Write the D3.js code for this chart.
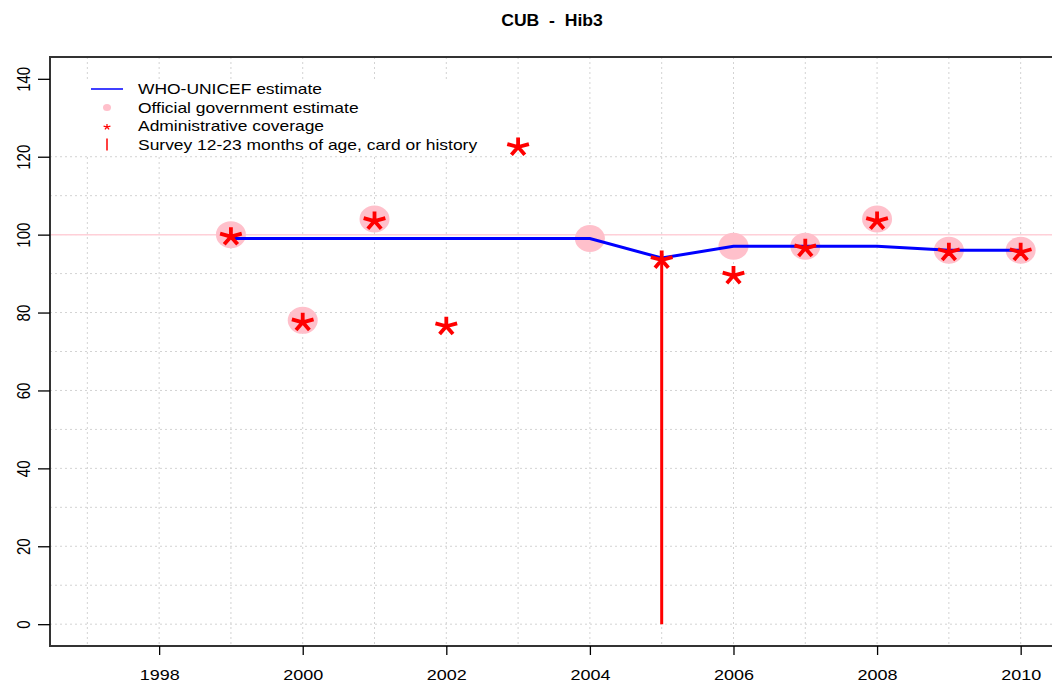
<!DOCTYPE html>
<html>
<head>
<meta charset="utf-8">
<script src="https://cdn.jsdelivr.net/npm/d3@7"></script>
<style>
  html, body { margin: 0; padding: 0; background: #fff; }
  svg { display: block; }
  text { font-family: "Liberation Sans", Arial, Helvetica, sans-serif; }
</style>
</head>
<body>
<svg id="chart" width="1052" height="684"></svg>
<script>
// ---- Data ----
const title = "CUB  -  Hib3";
const years = [1999, 2000, 2001, 2002, 2003, 2004, 2005, 2006, 2007, 2008, 2009, 2010];
const wuenicEstimate = [99, 99, 99, 99, 99, 99, 94, 97, 97, 97, 96, 96];
const officialEstimate = [100, 78, 104, null, null, 99, null, 97, 97, 104, 96, 96];
const adminCoverage = [100, 78, 104, 77, 123, null, 94, 90, 97, 104, 96, 96];
const surveyYears = [2005];
const surveyValues = [95];
const xTickValues = [1998, 2000, 2002, 2004, 2006, 2008, 2010];
const xGridValues = [1997, 1998, 1999, 2000, 2001, 2002, 2003, 2004, 2005, 2006, 2007, 2008, 2009, 2010];
const yTickValues = [0, 20, 40, 60, 80, 100, 120, 140];
const yGridValues = [0, 10, 20, 30, 40, 50, 60, 70, 80, 90, 100, 110, 120];
const referenceLine = 100;
const legendLabels = [
  "WHO-UNICEF estimate",
  "Official government estimate",
  "Administrative coverage",
  "Survey 12-23 months of age, card or history"
];

// ---- Layout ----
const plot = { left: 50, right: 1058, top: 57, bottom: 646 };
const SX = 1.2; // horizontal text stretch seen in the reference

const svg = d3.select("#chart");
const x = d3.scaleLinear().domain([1996.48, 2010.52]).range([plot.left, plot.right]);
const y = d3.scaleLinear().domain([-5.6, 145.6]).range([plot.bottom, plot.top]);

// grid
const grid = svg.append("g");
grid.selectAll("line.v").data(xGridValues).join("line")
  .attr("x1", d => x(d)).attr("x2", d => x(d))
  .attr("y1", plot.top).attr("y2", plot.bottom)
  .attr("stroke", "#d3d3d3").attr("stroke-width", 1).attr("stroke-dasharray", "2,3");
grid.selectAll("line.h").data(yGridValues).join("line")
  .attr("x1", plot.left).attr("x2", plot.right)
  .attr("y1", d => y(d)).attr("y2", d => y(d))
  .attr("stroke", "#d3d3d3").attr("stroke-width", 1).attr("stroke-dasharray", "2,3");

// reference line at 100
svg.append("line")
  .attr("x1", plot.left).attr("x2", plot.right)
  .attr("y1", y(referenceLine)).attr("y2", y(referenceLine))
  .attr("stroke", "#ffd0d8").attr("stroke-width", 1.5);

// legend background (white, no border)
svg.append("rect").attr("x", 78).attr("y", 80).attr("width", 412).attr("height", 74).attr("fill", "#fff");

// official estimate circles
const official = years.map((yr, i) => ({ yr, v: officialEstimate[i] })).filter(d => d.v !== null);
svg.append("g").selectAll("ellipse").data(official).join("ellipse")
  .attr("cx", d => x(d.yr)).attr("cy", d => y(d.v))
  .attr("rx", 15).attr("ry", 13.5).attr("fill", "#ffc0cb");

// WUENIC line
const wu = years.map((yr, i) => ({ yr, v: wuenicEstimate[i] }));
svg.append("path").datum(wu)
  .attr("d", d3.line().x(d => x(d.yr)).y(d => y(d.v)))
  .attr("fill", "none").attr("stroke", "#0000ff").attr("stroke-width", 3);

// asterisk path builder (5 arms, like a font asterisk)
function asteriskPath(L) {
  const angles = [0, 72, -72, 144, -144]; // degrees from "up"
  return angles.map(a => {
    const r = a * Math.PI / 180;
    return `M0,0L${(Math.sin(r) * L * SX).toFixed(2)},${(-Math.cos(r) * L).toFixed(2)}`;
  }).join("");
}

// admin coverage asterisks
const admin = years.map((yr, i) => ({ yr, v: adminCoverage[i] })).filter(d => d.v !== null);
svg.append("g").selectAll("path").data(admin).join("path")
  .attr("transform", d => `translate(${x(d.yr)},${y(d.v) + 2})`)
  .attr("d", asteriskPath(9.5))
  .attr("stroke", "#ff0000").attr("stroke-width", 3.8).attr("fill", "none");

// survey vertical lines
const survey = surveyYears.map((yr, i) => ({ yr, v: surveyValues[i] }));
svg.append("g").selectAll("line").data(survey).join("line")
  .attr("x1", d => x(d.yr)).attr("x2", d => x(d.yr))
  .attr("y1", y(0)).attr("y2", d => y(d.v))
  .attr("stroke", "#ff0000").attr("stroke-width", 3);

// box
svg.append("rect")
  .attr("x", plot.left).attr("y", plot.top)
  .attr("width", plot.right - plot.left).attr("height", plot.bottom - plot.top)
  .attr("fill", "none").attr("stroke", "#333").attr("stroke-width", 2);

// axes
const xAxis = svg.append("g").attr("transform", `translate(0,${plot.bottom})`)
  .call(d3.axisBottom(x).tickValues(xTickValues).tickFormat(d3.format("d")).tickSize(9).tickSizeOuter(0));
xAxis.select(".domain").remove();
xAxis.selectAll(".tick line").attr("stroke", "#000").attr("stroke-width", 1.3);
xAxis.selectAll(".tick text").attr("y", 0).attr("dy", null)
  .attr("transform", `translate(0,34) scale(${SX},1)`)
  .attr("font-size", 15).attr("fill", "#000");

const yAxis = svg.append("g").attr("transform", `translate(${plot.left},0)`)
  .call(d3.axisLeft(y).tickValues(yTickValues).tickFormat(d3.format("d")).tickSize(12).tickSizeOuter(0));
yAxis.select(".domain").remove();
yAxis.selectAll(".tick line").attr("stroke", "#000").attr("stroke-width", 1.3);
yAxis.selectAll(".tick text").attr("x", 0).attr("dy", null)
  .attr("text-anchor", "middle")
  .attr("transform", `translate(-20,0) scale(${SX},1) rotate(-90)`)
  .attr("font-size", 15).attr("fill", "#000");

// title
svg.append("text")
  .attr("transform", `translate(${(plot.left + plot.right) / 2 - 2},26) scale(1.1,1)`)
  .attr("text-anchor", "middle").attr("font-size", 16).attr("font-weight", "bold")
  .attr("xml:space", "preserve").style("white-space", "pre")
  .attr("fill", "#000").text(title);

// legend
const lg = svg.append("g");
const rowY = [89, 107.5, 126, 144.5];
lg.append("line").attr("x1", 91).attr("x2", 123).attr("y1", rowY[0]).attr("y2", rowY[0])
  .attr("stroke", "#0000ff").attr("stroke-width", 1.5);
lg.append("ellipse").attr("cx", 107).attr("cy", rowY[1]).attr("rx", 4).attr("ry", 3.5).attr("fill", "#ffc0cb");
lg.append("path").attr("transform", `translate(107,${rowY[2] + 1})`).attr("d", asteriskPath(3))
  .attr("stroke", "#ff0000").attr("stroke-width", 1.2).attr("fill", "none");
lg.append("line").attr("x1", 107).attr("x2", 107).attr("y1", rowY[3] - 6).attr("y2", rowY[3] + 6)
  .attr("stroke", "#ff0000").attr("stroke-width", 1.5);
lg.selectAll("text").data(legendLabels).join("text")
  .attr("transform", (d, i) => `translate(138,${rowY[i] + 5}) scale(1.22,1)`)
  .attr("font-size", 14.3).attr("fill", "#000").text(d => d);
</script>
</body>
</html>
